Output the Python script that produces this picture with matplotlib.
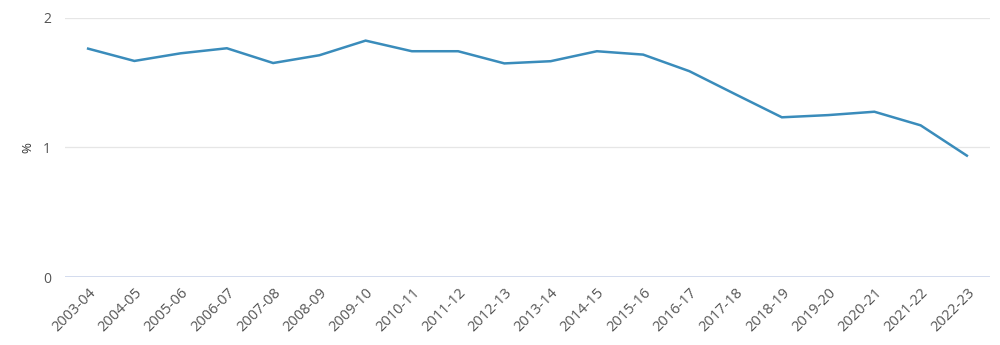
import matplotlib
matplotlib.use('Agg')
import matplotlib.pyplot as plt

plt.rcParams['font.family'] = ['Open Sans', 'DejaVu Sans']

years = ['2003-04', '2004-05', '2005-06', '2006-07', '2007-08', '2008-09',
         '2009-10', '2010-11', '2011-12', '2012-13', '2013-14', '2014-15',
         '2015-16', '2016-17', '2017-18', '2018-19', '2019-20', '2020-21',
         '2021-22', '2022-23']
pct = [1.763, 1.668, 1.727, 1.766, 1.652, 1.712, 1.825, 1.743, 1.743, 1.649,
       1.666, 1.743, 1.717, 1.589, 1.41, 1.233, 1.25, 1.276, 1.171, 0.937]
yticks = [0, 1, 2]

fig = plt.figure(figsize=(10, 3.45), dpi=100)
ax = fig.add_axes([0.065, 0.197, 0.925, 0.751])

x = list(range(len(years)))
ax.plot(x, pct, color='#3a8cbb', linewidth=1.8, solid_joinstyle='miter')

ax.set_xlim(-0.5, len(years) - 0.5)
ax.set_ylim(0, 2)
ax.set_yticks(yticks)
ax.set_yticklabels([str(v) for v in yticks])
ax.set_xticks(x)
ax.set_xticklabels(years, rotation=45, ha='right', rotation_mode='anchor')

# light grid, bluish baseline at zero
for v in yticks[1:]:
    ax.axhline(v, color='#e6e6e6', linewidth=0.9, zorder=0)
ax.axhline(0, color='#ccd6eb', linewidth=1.2, zorder=0)

for s in ax.spines.values():
    s.set_visible(False)
ax.tick_params(axis='both', length=0, colors='#555555')
ax.tick_params(axis='y', pad=10, labelsize=10)
ax.tick_params(axis='x', pad=6, labelsize=10.5)

ax.set_ylabel('%', fontsize=9.5, color='#333333', labelpad=6)

fig.savefig('out.png', dpi=100, facecolor='white')
